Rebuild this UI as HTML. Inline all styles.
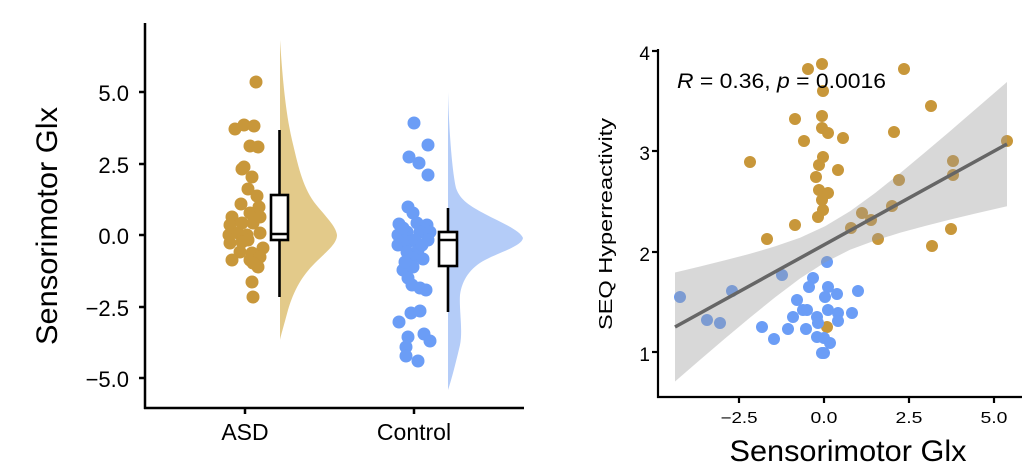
<!DOCTYPE html>
<html>
<head>
<meta charset="utf-8">
<style>
html,body{margin:0;padding:0;background:#fff;}
svg{display:block;}
text{font-family:"Liberation Sans",sans-serif;fill:#000;}
</style>
</head>
<body>
<svg width="1022" height="473" viewBox="0 0 1022 473" xmlns="http://www.w3.org/2000/svg">
<rect width="1022" height="473" fill="#fff"/>

<!-- LEFT PANEL -->
<path d="M280,40 C282,70 285,110 292,140 C298,165 302,185 314,202 C325,216 336,226 337,235 C337,244 326,252 315,263 C302,276 294,290 288,310 C284,325 281,335 280,340 Z" fill="#E3CA8A"/>
<path d="M448,92 C449,130 452,170 456,188 C460,200 470,206 485,214 C500,222 520,230 523,238 C522,246 500,252 485,260 C470,268 462,280 460,295 C459,310 463,330 460,345 C456,362 452,378 448,390 Z" fill="#B4CCF8"/>

<g fill="#C8973A">
<circle cx="256" cy="82" r="6.5"/>
<circle cx="235" cy="129" r="6.5"/><circle cx="244" cy="125" r="6.5"/><circle cx="254" cy="126" r="6.5"/>
<circle cx="250" cy="146" r="6.5"/><circle cx="258" cy="147" r="6.5"/>
<circle cx="242" cy="169" r="6.5"/><circle cx="244" cy="167" r="6.5"/><circle cx="252" cy="177" r="6.5"/>
<circle cx="248" cy="189" r="6.5"/><circle cx="257" cy="196" r="6.5"/><circle cx="241" cy="204" r="6.5"/>
<circle cx="250" cy="213" r="6.5"/><circle cx="259" cy="207" r="6.5"/><circle cx="232" cy="217" r="6.5"/>
<circle cx="230" cy="225" r="6.5"/><circle cx="242" cy="223" r="6.5"/><circle cx="253" cy="223" r="6.5"/>
<circle cx="260" cy="217" r="6.5"/><circle cx="229" cy="235" r="6.5"/><circle cx="238" cy="233" r="6.5"/>
<circle cx="247" cy="235" r="6.5"/><circle cx="260" cy="233" r="6.5"/><circle cx="230" cy="243" r="6.5"/>
<circle cx="242" cy="242" r="6.5"/><circle cx="248" cy="240" r="6.5"/><circle cx="263" cy="248" r="6.5"/>
<circle cx="240" cy="252" r="6.5"/><circle cx="252" cy="253" r="6.5"/><circle cx="232" cy="260" r="6.5"/>
<circle cx="250" cy="260" r="6.5"/><circle cx="260" cy="257" r="6.5"/><circle cx="258" cy="267" r="6.5"/>
<circle cx="253" cy="263" r="6.5"/>
<circle cx="252" cy="282" r="6.5"/><circle cx="253" cy="297" r="6.5"/>
</g>

<g fill="#6B9DF6">
<circle cx="414" cy="123" r="6.5"/><circle cx="428" cy="145" r="6.5"/><circle cx="409" cy="157" r="6.5"/>
<circle cx="419" cy="163" r="6.5"/><circle cx="428" cy="175" r="6.5"/>
<circle cx="408" cy="207" r="6.5"/><circle cx="413" cy="213" r="6.5"/><circle cx="399" cy="224" r="6.5"/>
<circle cx="417" cy="223" r="6.5"/><circle cx="427" cy="225" r="6.5"/><circle cx="398" cy="235" r="6.5"/>
<circle cx="407" cy="232" r="6.5"/><circle cx="420" cy="232" r="6.5"/><circle cx="430" cy="232" r="6.5"/>
<circle cx="398" cy="245" r="6.5"/><circle cx="408" cy="242" r="6.5"/><circle cx="415" cy="240" r="6.5"/>
<circle cx="428" cy="240" r="6.5"/><circle cx="407" cy="252" r="6.5"/><circle cx="418" cy="250" r="6.5"/>
<circle cx="413" cy="258" r="6.5"/><circle cx="423" cy="259" r="6.5"/><circle cx="403" cy="270" r="6.5"/>
<circle cx="413" cy="267" r="6.5"/><circle cx="408" cy="278" r="6.5"/><circle cx="412" cy="285" r="6.5"/>
<circle cx="420" cy="288" r="6.5"/><circle cx="426" cy="290" r="6.5"/>
<circle cx="403" cy="228" r="6.5"/><circle cx="422" cy="245" r="6.5"/><circle cx="405" cy="262" r="6.5"/>
<circle cx="411" cy="313" r="6.5"/><circle cx="420" cy="311" r="6.5"/><circle cx="399" cy="322" r="6.5"/>
<circle cx="424" cy="334" r="6.5"/><circle cx="430" cy="341" r="6.5"/><circle cx="408" cy="337" r="6.5"/>
<circle cx="406" cy="347" r="6.5"/><circle cx="406" cy="356" r="6.5"/><circle cx="418" cy="361" r="6.5"/>
</g>

<g stroke="#000" stroke-width="2.6" fill="#fff">
<line x1="279.5" y1="130" x2="279.5" y2="297"/>
<rect x="271" y="195" width="17" height="45"/>
<line x1="271" y1="234" x2="288" y2="234"/>
<line x1="448" y1="208" x2="448" y2="312"/>
<rect x="439" y="232" width="18" height="34"/>
<line x1="439" y1="240" x2="457" y2="240"/>
</g>

<g stroke="#000" stroke-width="2.5" fill="none">
<line x1="145" y1="23" x2="145" y2="409"/>
<line x1="144" y1="408" x2="524" y2="408"/>
<line x1="139" y1="92" x2="145" y2="92"/>
<line x1="139" y1="164" x2="145" y2="164"/>
<line x1="139" y1="235" x2="145" y2="235"/>
<line x1="139" y1="307" x2="145" y2="307"/>
<line x1="139" y1="378" x2="145" y2="378"/>
<line x1="245" y1="408" x2="245" y2="414"/>
<line x1="414" y1="408" x2="414" y2="414"/>
</g>
<g font-size="22" text-anchor="end">
<text x="129" y="101">5.0</text>
<text x="129" y="173">2.5</text>
<text x="129" y="244">0.0</text>
<text x="129" y="316">−2.5</text>
<text x="129" y="387">−5.0</text>
</g>
<g font-size="23" text-anchor="middle">
<text x="245" y="440">ASD</text>
<text x="414" y="440">Control</text>
</g>
<text transform="translate(57,226) rotate(-90)" font-size="30" text-anchor="middle" textLength="238" lengthAdjust="spacingAndGlyphs">Sensorimotor Glx</text>

<!-- RIGHT PANEL -->
<g fill="#C8973A">
<circle cx="808" cy="69" r="6"/><circle cx="822" cy="64" r="6"/><circle cx="823" cy="91" r="6"/>
<circle cx="904" cy="69" r="6"/><circle cx="795" cy="119" r="6"/><circle cx="822" cy="116" r="6"/>
<circle cx="822" cy="128" r="6"/><circle cx="828" cy="133" r="6"/><circle cx="804" cy="141" r="6"/>
<circle cx="843" cy="138" r="6"/><circle cx="894" cy="132" r="6"/><circle cx="931" cy="106" r="6"/>
<circle cx="1007" cy="141" r="6"/><circle cx="823" cy="157" r="6"/><circle cx="819" cy="165" r="6"/>
<circle cx="838" cy="170" r="6"/><circle cx="816" cy="177" r="6"/><circle cx="819" cy="190" r="6"/>
<circle cx="828" cy="193" r="6"/><circle cx="822" cy="200" r="6"/><circle cx="823" cy="210" r="6"/>
<circle cx="818" cy="217" r="6"/><circle cx="795" cy="225" r="6"/><circle cx="750" cy="162" r="6"/>
<circle cx="767" cy="239" r="6"/><circle cx="953" cy="161" r="6"/><circle cx="953" cy="175" r="6"/>
<circle cx="899" cy="180" r="6"/><circle cx="892" cy="206" r="6"/><circle cx="862" cy="213" r="6"/>
<circle cx="871" cy="220" r="6"/><circle cx="851" cy="228" r="6"/><circle cx="878" cy="239" r="6"/>
<circle cx="951" cy="229" r="6"/><circle cx="932" cy="246" r="6"/><circle cx="827" cy="327" r="6"/>
</g>
<g fill="#6B9DF6">
<circle cx="680" cy="297" r="6"/><circle cx="732" cy="291" r="6"/><circle cx="707" cy="320" r="6"/>
<circle cx="720" cy="323" r="6"/><circle cx="782" cy="275" r="6"/><circle cx="827" cy="262" r="6"/>
<circle cx="813" cy="278" r="6"/><circle cx="809" cy="287" r="6"/><circle cx="828" cy="287" r="6"/>
<circle cx="837" cy="294" r="6"/><circle cx="825" cy="297" r="6"/><circle cx="858" cy="291" r="6"/>
<circle cx="797" cy="300" r="6"/><circle cx="803" cy="310" r="6"/><circle cx="807" cy="310" r="6"/>
<circle cx="828" cy="310" r="6"/><circle cx="838" cy="313" r="6"/><circle cx="852" cy="313" r="6"/>
<circle cx="793" cy="317" r="6"/><circle cx="817" cy="317" r="6"/><circle cx="818" cy="323" r="6"/>
<circle cx="838" cy="321" r="6"/><circle cx="762" cy="327" r="6"/><circle cx="788" cy="329" r="6"/>
<circle cx="806" cy="329" r="6"/><circle cx="817" cy="337" r="6"/><circle cx="774" cy="339" r="6"/>
<circle cx="824" cy="338" r="6"/><circle cx="830" cy="343" r="6"/><circle cx="822" cy="353" r="6"/>
<circle cx="824" cy="353" r="6"/>
</g>
<path d="M675,272.5 L700,266.5 L725,260.3 L750,253.8 L775,246.4 L800,237.7 L825,226.3 L850,211.2 L875,193.1 L900,173.2 L925,152.4 L950,131.2 L975,109.6 L1007,82 L1007,206.2 L975,213.6 L950,219.6 L925,226.0 L900,232.8 L875,240.5 L850,249.8 L825,262.4 L800,278.5 L775,297.4 L750,317.6 L725,338.5 L700,359.9 L675,381.5 Z" fill="#999999" fill-opacity="0.38"/>
<line x1="675" y1="327" x2="1007" y2="144" stroke="#666" stroke-width="3.5"/>

<g stroke="#000" stroke-width="2.2" fill="none">
<line x1="658" y1="49" x2="658" y2="398"/>
<line x1="657" y1="397" x2="1022" y2="397"/>
<line x1="652" y1="51" x2="658" y2="51"/>
<line x1="652" y1="151" x2="658" y2="151"/>
<line x1="652" y1="252" x2="658" y2="252"/>
<line x1="652" y1="352" x2="658" y2="352"/>
<line x1="739" y1="397" x2="739" y2="403"/>
<line x1="824" y1="397" x2="824" y2="403"/>
<line x1="909" y1="397" x2="909" y2="403"/>
<line x1="994" y1="397" x2="994" y2="403"/>
</g>
<g font-size="19" text-anchor="end">
<text x="650" y="60">4</text>
<text x="650" y="160">3</text>
<text x="650" y="261">2</text>
<text x="650" y="361">1</text>
</g>
<g font-size="15.5" text-anchor="middle">
<text x="739" y="423" textLength="37" lengthAdjust="spacingAndGlyphs">−2.5</text>
<text x="824" y="423" textLength="27" lengthAdjust="spacingAndGlyphs">0.0</text>
<text x="909" y="423" textLength="27" lengthAdjust="spacingAndGlyphs">2.5</text>
<text x="994" y="423" textLength="27" lengthAdjust="spacingAndGlyphs">5.0</text>
</g>
<text x="677" y="88" font-size="21" textLength="209" lengthAdjust="spacingAndGlyphs"><tspan font-style="italic">R</tspan> = 0.36, <tspan font-style="italic">p</tspan> = 0.0016</text>
<text x="848" y="461" font-size="30" text-anchor="middle" textLength="237" lengthAdjust="spacingAndGlyphs">Sensorimotor Glx</text>
<text transform="translate(612,224) rotate(-90)" font-size="18" text-anchor="middle" textLength="212" lengthAdjust="spacingAndGlyphs">SEQ Hyperreactivity</text>
</svg>
</body>
</html>
